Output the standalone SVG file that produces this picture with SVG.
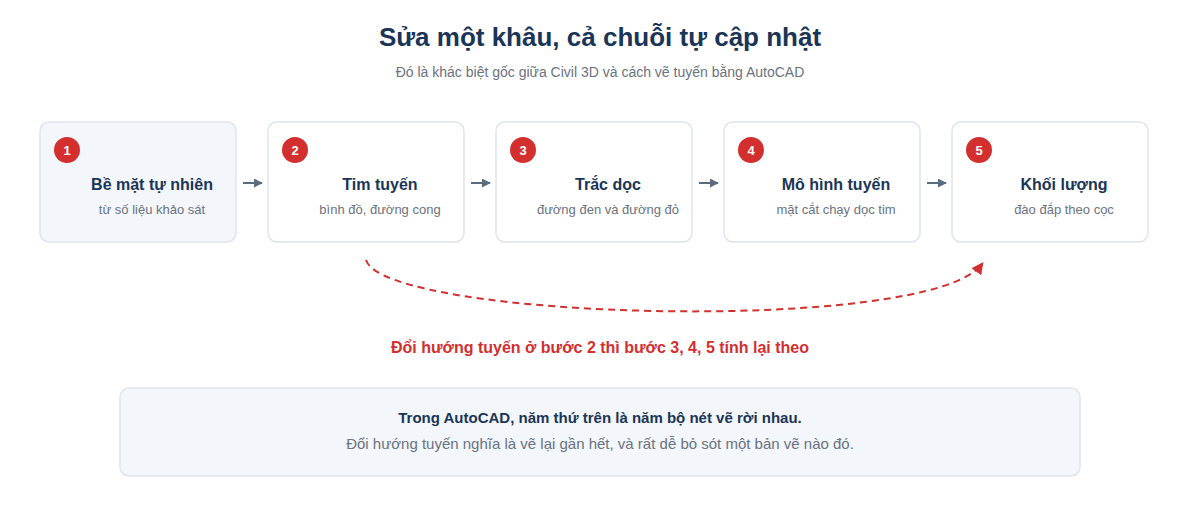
<svg xmlns="http://www.w3.org/2000/svg" width="1200" height="520" viewBox="0 0 1200 520">
<defs>
<marker id="ah" viewBox="0 0 10 10" refX="9" refY="5" markerWidth="9" markerHeight="9" markerUnits="userSpaceOnUse" orient="auto"><path d="M0,0 L10,5 L0,10 z" fill="#5b6b7e"/></marker>
<marker id="ahr" viewBox="0 0 10 10" refX="8" refY="5" markerWidth="12" markerHeight="12" markerUnits="userSpaceOnUse" orient="auto"><path d="M0,0 L10,5 L0,10 z" fill="#d32f2f"/></marker>
</defs>
<style>
text{font-family:"Liberation Sans",Arial,sans-serif}
.card{fill:#ffffff;stroke:#dde5ee;stroke-width:1.5}
.card.hl{fill:#f3f6fb}
.badge{fill:#d32f2f}
.num{fill:#fff;font-size:13px;font-weight:bold;text-anchor:middle}
.nt{fill:#1a3557;font-size:16px;font-weight:bold;text-anchor:middle}
.ns{fill:#6b7280;font-size:13px;text-anchor:middle}
.arr{stroke:#5b6b7e;stroke-width:2;fill:none}
</style>
<rect width="1200" height="520" fill="#ffffff"/>
<text x="600" y="46" text-anchor="middle" font-size="26" font-weight="bold" fill="#1a3557">Sửa một khâu, cả chuỗi tự cập nhật</text>
<text x="600" y="77" text-anchor="middle" font-size="14" fill="#6b7280">Đó là khác biệt gốc giữa Civil 3D và cách vẽ tuyến bằng AutoCAD</text>

<g id="node1"><rect class="card hl" x="40" y="122" width="196" height="120" rx="9"/><circle class="badge" cx="67" cy="150" r="13"/><text class="num" x="67" y="155">1</text><text class="nt" x="152" y="190">Bề mặt tự nhiên</text><text class="ns" x="152" y="214">từ số liệu khảo sát</text></g>
<g id="node2"><rect class="card" x="268" y="122" width="196" height="120" rx="9"/><circle class="badge" cx="295" cy="150" r="13"/><text class="num" x="295" y="155">2</text><text class="nt" x="380" y="190">Tim tuyến</text><text class="ns" x="380" y="214">bình đồ, đường cong</text></g>
<g id="node3"><rect class="card" x="496" y="122" width="196" height="120" rx="9"/><circle class="badge" cx="523" cy="150" r="13"/><text class="num" x="523" y="155">3</text><text class="nt" x="608" y="190">Trắc dọc</text><text class="ns" x="608" y="214">đường đen và đường đỏ</text></g>
<g id="node4"><rect class="card" x="724" y="122" width="196" height="120" rx="9"/><circle class="badge" cx="751" cy="150" r="13"/><text class="num" x="751" y="155">4</text><text class="nt" x="836" y="190">Mô hình tuyến</text><text class="ns" x="836" y="214">mặt cắt chạy dọc tim</text></g>
<g id="node5"><rect class="card" x="952" y="122" width="196" height="120" rx="9"/><circle class="badge" cx="979" cy="150" r="13"/><text class="num" x="979" y="155">5</text><text class="nt" x="1064" y="190">Khối lượng</text><text class="ns" x="1064" y="214">đào đắp theo cọc</text></g>

<g id="connectors">
<line class="arr" x1="243" y1="183" x2="262" y2="183" marker-end="url(#ah)"/>
<line class="arr" x1="471" y1="183" x2="490" y2="183" marker-end="url(#ah)"/>
<line class="arr" x1="699" y1="183" x2="718" y2="183" marker-end="url(#ah)"/>
<line class="arr" x1="927" y1="183" x2="946" y2="183" marker-end="url(#ah)"/>
<path d="M366,260 C385,320 930,335 982,264" fill="none" stroke="#d32f2f" stroke-width="2" stroke-dasharray="7 5" marker-end="url(#ahr)"/>
</g>
<text x="600" y="353" text-anchor="middle" font-size="16" font-weight="bold" fill="#d32f2f">Đổi hướng tuyến ở bước 2 thì bước 3, 4, 5 tính lại theo</text>

<g id="note"><rect x="120" y="388" width="960" height="88" rx="9" fill="#f3f6fb" stroke="#dde5ee" stroke-width="1.5"/>
<text x="600" y="423" text-anchor="middle" font-size="15" font-weight="bold" fill="#1a3557">Trong AutoCAD, năm thứ trên là năm bộ nét vẽ rời nhau.</text>
<text x="600" y="449" text-anchor="middle" font-size="15" fill="#6b7280">Đổi hướng tuyến nghĩa là vẽ lại gần hết, và rất dễ bỏ sót một bản vẽ nào đó.</text></g>
</svg>
